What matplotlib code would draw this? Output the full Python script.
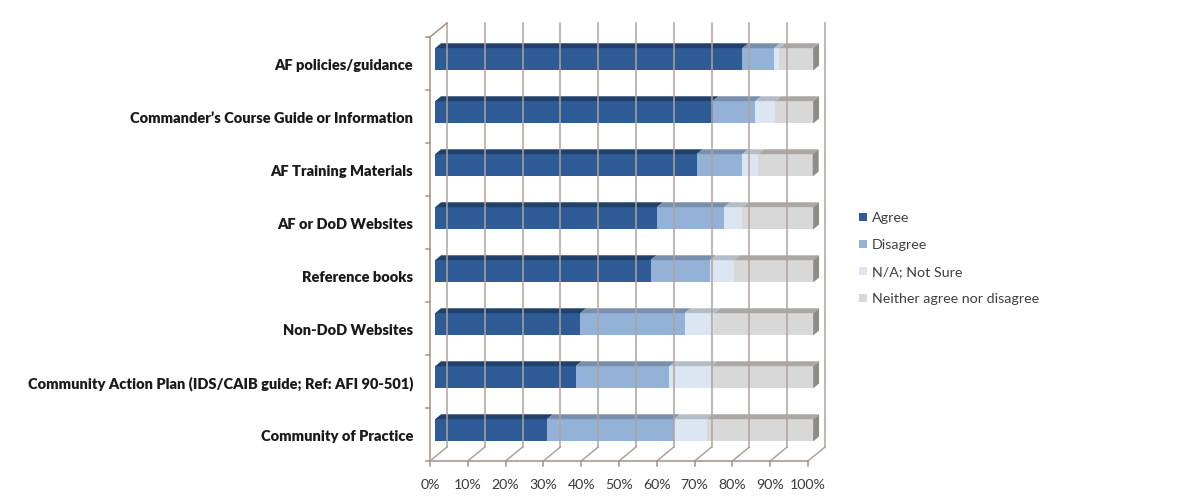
import numpy as np
import matplotlib
matplotlib.use("Agg")
import matplotlib.pyplot as plt
from matplotlib.patches import Polygon, Patch

plt.rcParams['font.family'] = ['Lato', 'DejaVu Sans']

# data (percent of respondents), top to bottom as shown
categories = [
    'AF policies/guidance',
    "Commander\u2019s Course Guide or Information",
    'AF Training Materials',
    'AF or DoD Websites',
    'Reference books',
    'Non-DoD Websites',
    'Community Action Plan (IDS/CAIB guide; Ref: AFI 90-501)',
    'Community of Practice',
]
agree = [81.3, 73.4, 69.2, 58.7, 57.0, 38.4, 37.2, 29.6]
disagree = [8.4, 11.3, 12.1, 17.8, 15.6, 27.6, 24.8, 33.5]
not_sure = [1.3, 5.3, 4.2, 4.8, 6.6, 7.9, 11.1, 8.7]
neither = [9.0, 10.0, 14.4, 18.7, 20.8, 26.1, 26.9, 28.2]
series_names = ['Agree', 'Disagree', 'N/A; Not Sure', 'Neither agree nor disagree']
xticks = list(range(0, 101, 10))

front_cols = ['#2F5C96', '#94B2D7', '#DCE6F2', '#D8D8D8']
top_cols = ['#20416C', '#7890AE', '#B4BCC6', '#ABA7A4']
end_col = '#8E8B89'
grid_col = '#AFA29C'
axis_col = '#A09189'

W, H = 1177, 497
fig = plt.figure(figsize=(W / 100, H / 100), dpi=100)
# front plane of the 3D box: x 430..808 px, y 37..461 px (from top)
ax = fig.add_axes([430 / W, (H - 461) / H, 378 / W, 424 / H])
ax.set_xlim(0, 100)
ax.set_ylim(0, len(categories))
ax.axis('off')

px_x = 100 / 378.0       # data units per pixel, x
px_y = 1 / 53.0          # data units per pixel, y
DX, DY = 17 * px_x, 14 * px_y   # depth of the box
f1, f2 = 0.30, 0.65              # bar depth range (fraction of box depth)
bar_h = 0.42
n = len(categories)

kw = dict(clip_on=False)

# back wall gridlines
for t in xticks:
    ax.plot([t + DX, t + DX], [DY, n + DY], color=grid_col, lw=1.1, **kw)
# left wall
ax.plot([0, 0], [0, n], color=axis_col, lw=1.1, **kw)
ax.plot([0, DX], [n, n + DY], color=axis_col, lw=1.1, **kw)
for b in range(n + 1):
    ax.plot([-4 * px_x, 0], [b, b], color=axis_col, lw=1.1, **kw)
# floor
ax.plot([0, 100], [0, 0], color=axis_col, lw=1.1, **kw)
for t in xticks:
    ax.plot([t, t + DX], [0, DY], color=grid_col, lw=1.1, **kw)
    ax.plot([t, t], [0, -5 * px_y], color=axis_col, lw=1.1, **kw)
    ax.text(t, -24 * px_y, f'{t}%', ha='center', va='center',
            fontsize=10.2, color='#3A3A3A')

# bars
data = np.array([agree, disagree, not_sure, neither])
for i, cat in enumerate(categories):
    yc = n - i - 0.5
    y0 = yc - bar_h / 2 + f1 * DY
    y1 = yc + bar_h / 2 + f1 * DY
    left = 0.0
    for s in range(4):
        w = data[s, i]
        x0 = left + f1 * DX
        x1 = left + w + f1 * DX
        ddx = (f2 - f1) * DX
        ddy = (f2 - f1) * DY
        ax.add_patch(Polygon([(x0, y0), (x1, y0), (x1, y1), (x0, y1)],
                             closed=True, fc=front_cols[s], ec='none', **kw))
        ax.add_patch(Polygon([(x0, y1), (x1, y1), (x1 + ddx, y1 + ddy), (x0 + ddx, y1 + ddy)],
                             closed=True, fc=top_cols[s], ec='none', **kw))
        left += w
    xe = left + f1 * DX
    ax.add_patch(Polygon([(xe, y0), (xe + ddx, y0 + ddy), (xe + ddx, y1 + ddy), (xe, y1)],
                         closed=True, fc=end_col, ec='none', **kw))
    ax.text(-17 * px_x, yc - 2 * px_y, cat, ha='right', va='center', fontsize=10.5,
            fontweight='heavy', color='#1A1A1A')

handles = [Patch(fc=c, ec='none') for c in front_cols]
fig.legend(handles, series_names, loc='upper left', bbox_to_anchor=(846 / W, 1 - 199 / H),
           frameon=False, fontsize=10.3, handlelength=0.55, handleheight=0.55,
           handletextpad=0.35, labelspacing=1.05, labelcolor='#404040')

fig.savefig('out.png', dpi=100)
